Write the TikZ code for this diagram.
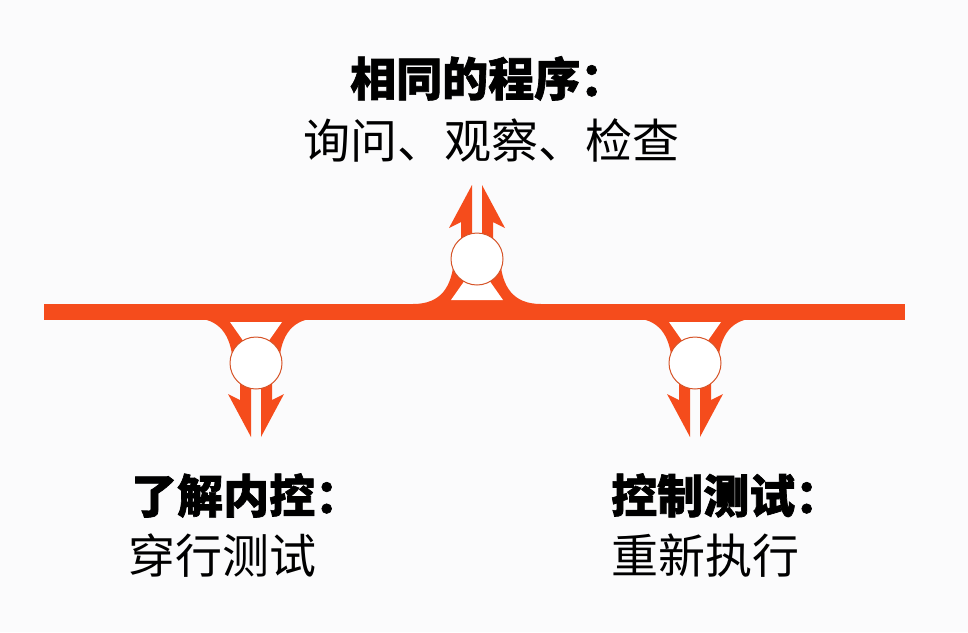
\documentclass[tikz,border=0pt]{standalone}
\usepackage{fontspec}
\setmainfont{Noto Sans CJK SC}[BoldFeatures={FakeBold=1.5}]
\definecolor{org}{RGB}{245,76,28}
\definecolor{orgdark}{RGB}{214,84,40}
\definecolor{bgc}{RGB}{251,251,252}
\tikzset{
  jcirc/.style={circle, minimum size=52pt, inner sep=0pt, fill=white, draw=orgdark, line width=1pt},
  boldtxt/.style={anchor=base west, inner sep=0pt, font=\fontsize{46}{52}\selectfont\bfseries},
  regtxt/.style={anchor=base west, inner sep=0pt, font=\fontsize{47}{53}\selectfont},
  junction/.pic={
    \fill[org] (-5,74) -- (-28,31) -- (-16,37) -- (-16,0) -- (-5,0) -- cycle;
    \fill[org] (5,74) -- (28,31) -- (16,37) -- (16,0) -- (5,0) -- cycle;
    \fill[org] (-64,-45) .. controls (-36,-45) and (-25,-28) .. (-23,0) -- (23,0) .. controls (25,-28) and (36,-45) .. (64,-45) -- cycle;
    \fill[white] (-26,-41) -- (26,-41) -- (0,-4) -- cycle;
    \node[jcirc] (c) at (0,0) {};
  }
}
\begin{document}
\begin{tikzpicture}[x=1pt,y=-1pt]
\useasboundingbox (0,0) rectangle (968,632);
\fill[bgc] (0,0) rectangle (968,632);
\fill[org] (44,304) rectangle (905,320);
\pic (jl) at (256,363) {junction};
\pic (jr) at (695,363) {junction};
\pic[yscale=-1] (ju) at (477,259) {junction};
\node[boldtxt] (t1) at (350,96) {相同的程序：};
\node[regtxt] (t2) at (303,158) {询问、观察、检查};
\node[boldtxt] (l1) at (131,513) {了解内控：};
\node[regtxt] (l2) at (128,573) {穿行测试};
\node[boldtxt] (r1) at (611,513) {控制测试：};
\node[regtxt] (r2) at (611,573) {重新执行};
\end{tikzpicture}
\end{document}
